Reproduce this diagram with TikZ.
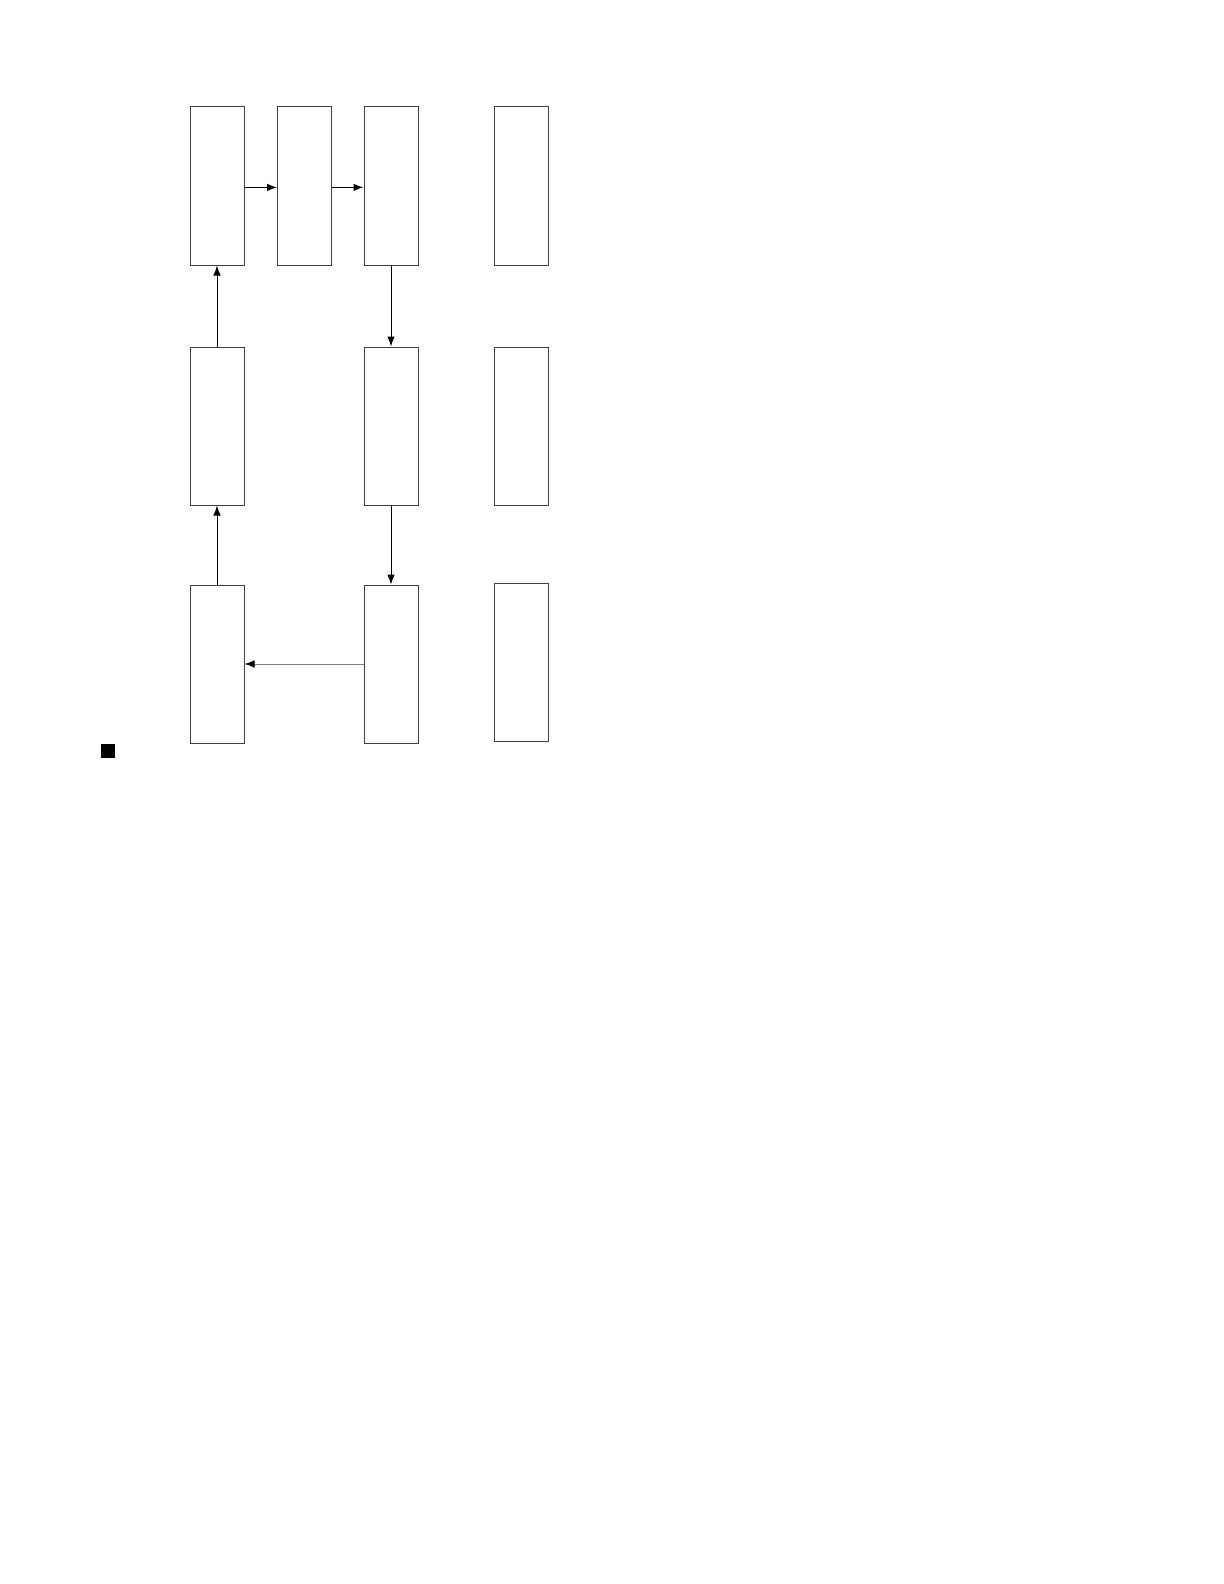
\documentclass[tikz,border=0pt]{standalone}
\usepackage{tikz}
\usetikzlibrary{arrows.meta,positioning}

\begin{document}
\begin{tikzpicture}[x=0.5pt, y=-0.5pt]
			\tikzstyle{Block}	= [rectangle, draw=black!75, line width=0.5pt, fill=white, minimum width=27pt, minimum height=79pt, inner sep=0pt]
			\tikzstyle{Flow}	= [-{Latex[length=5pt, width=3.8pt]}, line width=0.5pt, black]
			\tikzstyle{Back}	= [-{Latex[length=5pt, width=3.8pt, black]}, line width=0.5pt, draw=black!50]

			\useasboundingbox (0,0) rectangle (1224,1584);

			\foreach \n/\x/\y in {11/217/186, 12/304.5/186, 13/391/186, 14/521/186, 21/217/426, 23/391/426, 24/521/426, 31/217/664, 33/391/664, 34/521/662}
				\node (b\n) at (\x, \y) [Block] {};

			\node (sq) at (108, 751) [rectangle, fill=black, minimum size=7pt, inner sep=0pt] {};

			\foreach \a/\b in {11/12, 12/13}
				\draw ([yshift=-0.7pt]b\a.east) to ([yshift=-0.7pt]b\b.west) [Flow, line width=0.6pt];
			\foreach \a/\b in {13/23, 23/33}
				\draw (b\a.south) to (b\b.north) [Flow];
			\foreach \a/\b in {31/21, 21/11}
				\draw (b\a.north) to (b\b.south) [Flow];
			\draw (b33.west) to (b31.east) [Back];
		\end{tikzpicture}
\end{document}
